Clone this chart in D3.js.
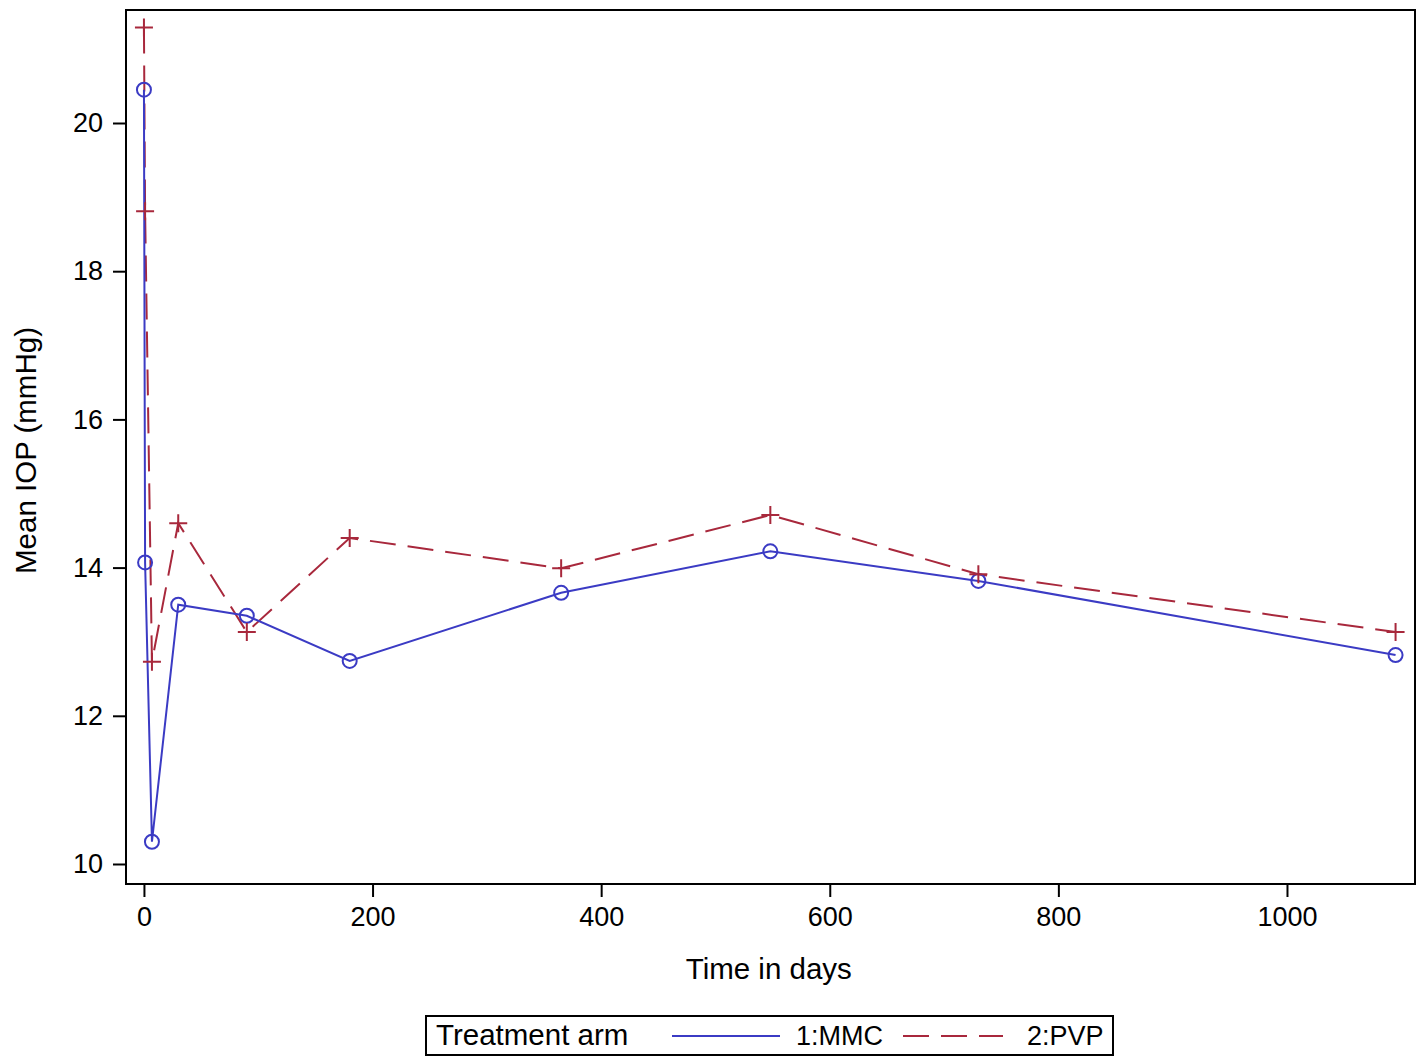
<!DOCTYPE html>
<html>
<head>
<meta charset="utf-8">
<script src="https://cdn.jsdelivr.net/npm/d3@7"></script>
<style>
  body { margin: 0; background: #fff; }
  text { font-family: "Liberation Sans", Arial, sans-serif; }
</style>
</head>
<body>
<div id="my_dataviz"></div>
<script>
// data
var days = [0, 1, 7, 30, 90, 180, 365, 548, 730, 1095];
var mmc  = [20.45, 14.07, 10.30, 13.50, 13.35, 12.74, 13.66, 14.22, 13.82, 12.82];
var pvp  = [21.29, 18.81, 12.73, 14.60, 13.13, 14.40, 13.99, 14.71, 13.91, 13.13];
var xTicks = [0, 200, 400, 600, 800, 1000];
var yTicks = [10, 12, 14, 16, 18, 20];

var blue = "#3b3bc4", red = "#a8283c";

// set the dimensions and margins of the graph
var margin = {top: 10, right: 10, bottom: 178, left: 126},
    width = 1425 - margin.left - margin.right,
    height = 1062 - margin.top - margin.bottom;

var svg = d3.select("#my_dataviz")
  .append("svg")
    .attr("width", 1425)
    .attr("height", 1062)
  .append("g")
    .attr("transform", "translate(" + margin.left + "," + margin.top + ")");

var x = d3.scaleLinear()
  .domain([-15.7, 1112])
  .range([0, width]);

var y = d3.scaleLinear()
  .domain([9.73, 21.525])
  .range([height, 0]);

// X axis
var xAxis = svg.append("g")
  .attr("transform", "translate(0," + height + ")")
  .call(d3.axisBottom(x).tickValues(xTicks).tickSize(13).tickPadding(10).tickFormat(d3.format("d")));
xAxis.select(".domain").remove();
xAxis.selectAll("line").attr("stroke-width", 2);
xAxis.selectAll("text").style("font-size", "27px").attr("fill", "#000");

// Y axis
var yAxis = svg.append("g")
  .call(d3.axisLeft(y).tickValues(yTicks).tickSize(13).tickPadding(10));
yAxis.select(".domain").remove();
yAxis.selectAll("line").attr("stroke-width", 2);
yAxis.selectAll("text").style("font-size", "27px").attr("fill", "#000");

// frame
svg.append("rect")
  .attr("x", 0).attr("y", 0)
  .attr("width", width).attr("height", height)
  .attr("fill", "none")
  .attr("stroke", "#000")
  .attr("stroke-width", 2);

// axis titles
svg.append("text")
  .attr("x", x(600) - 61)
  .attr("y", height + 95)
  .attr("text-anchor", "middle")
  .style("font-size", "29.5px")
  .text("Time in days");

svg.append("text")
  .attr("transform", "translate(" + (-90) + "," + y(15.58) + ") rotate(-90)")
  .attr("text-anchor", "middle")
  .style("font-size", "29.5px")
  .text("Mean IOP (mmHg)");

var line = d3.line()
  .x(function(d) { return x(d[0]); })
  .y(function(d) { return y(d[1]); });

var mmcData = days.map(function(d, i) { return [d, mmc[i]]; });
var pvpData = days.map(function(d, i) { return [d, pvp[i]]; });

// lines
svg.append("path")
  .datum(pvpData)
  .attr("d", line)
  .attr("fill", "none")
  .attr("stroke", red)
  .attr("stroke-width", 2)
  .attr("stroke-dasharray", "26,12");

svg.append("path")
  .datum(mmcData)
  .attr("d", line)
  .attr("fill", "none")
  .attr("stroke", blue)
  .attr("stroke-width", 2);

// markers
svg.append("g")
  .selectAll("circle")
  .data(mmcData)
  .enter()
  .append("circle")
    .attr("cx", function(d) { return x(d[0]); })
    .attr("cy", function(d) { return y(d[1]); })
    .attr("r", 7)
    .attr("fill", "none")
    .attr("stroke", blue)
    .attr("stroke-width", 2);

svg.append("g")
  .selectAll("path")
  .data(pvpData)
  .enter()
  .append("path")
    .attr("d", function(d) {
      var cx = x(d[0]), cy = y(d[1]);
      return "M" + (cx - 9) + "," + cy + "H" + (cx + 9) + "M" + cx + "," + (cy - 9) + "V" + (cy + 9);
    })
    .attr("stroke", red)
    .attr("stroke-width", 2);

// legend
var lg = d3.select("svg").append("g").attr("transform", "translate(426,1016)");
lg.append("rect")
  .attr("width", 687).attr("height", 39)
  .attr("fill", "none").attr("stroke", "#000").attr("stroke-width", 2);
lg.append("text").attr("x", 10).attr("y", 29).style("font-size", "29.5px").text("Treatment arm");
lg.append("line").attr("x1", 246).attr("x2", 354).attr("y1", 20).attr("y2", 20)
  .attr("stroke", blue).attr("stroke-width", 2);
lg.append("text").attr("x", 370).attr("y", 29).style("font-size", "27px").text("1:MMC");
lg.append("line").attr("x1", 477).attr("x2", 577).attr("y1", 20).attr("y2", 20)
  .attr("stroke", red).attr("stroke-width", 2).attr("stroke-dasharray", "26,12");
lg.append("text").attr("x", 601).attr("y", 29).style("font-size", "27px").text("2:PVP");
</script>
</body>
</html>
